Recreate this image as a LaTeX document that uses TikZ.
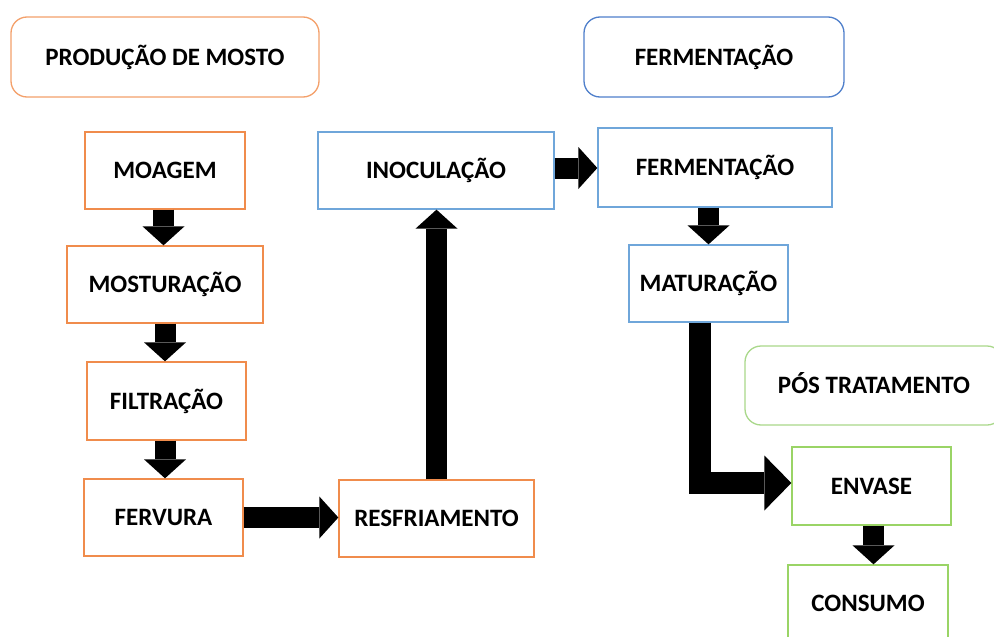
\documentclass[tikz,border=0pt]{standalone}
\usepackage{fontspec}
\setmainfont{Carlito}
\usetikzlibrary{arrows.meta,calc}
\definecolor{orbox}{HTML}{F08C4C}
\definecolor{orhead}{HTML}{F4A06A}
\definecolor{blbox}{HTML}{6FA6DA}
\definecolor{blhead}{HTML}{4F7FCB}
\definecolor{grbox}{HTML}{9AD466}
\definecolor{grhead}{HTML}{A9D88A}
\begin{document}
\begin{tikzpicture}[x=1pt,y=-1pt,
  box/.style={draw, line width=1.3pt, inner sep=0pt, text height=16pt, text depth=0pt,
    font=\fontsize{25}{29}\selectfont\bfseries, text=black},
  head/.style={box, rounded corners=16pt},
  flow/.style={line width=21pt, -{Triangle[width=42pt,length=19pt,line width=0pt]}},
  flowbig/.style={line width=22pt, -{Triangle[width=55pt,length=27pt,line width=0pt]}}]
\clip (0,0) rectangle (994,637);
\fill[white] (0,0) rectangle (994,637);

% headers
\node[head, draw=orhead, minimum width=308pt, minimum height=80pt] (hprod) at (165,57) {PRODUÇÃO DE MOSTO};
\node[head, draw=blhead, minimum width=260pt, minimum height=80pt] (hferm) at (714,57) {FERMENTAÇÃO};
\node[head, draw=grhead, minimum width=258pt, minimum height=79pt] (hpos) at (874,385.5) {PÓS TRATAMENTO};

% orange boxes
\node[box, draw=orbox, minimum width=160pt, minimum height=77pt] (moagem) at (165,170.5) {MOAGEM};
\node[box, draw=orbox, minimum width=196pt, minimum height=77pt] (mostur) at (165,284.5) {MOSTURAÇÃO};
\node[box, draw=orbox, minimum width=159pt, minimum height=78pt] (filtr) at (166.5,401) {FILTRAÇÃO};
\node[box, draw=orbox, minimum width=159pt, minimum height=77pt] (fervura) at (163.5,517.5) {FERVURA};
\node[box, draw=orbox, minimum width=195pt, minimum height=77pt] (resfr) at (436.5,518.5) {RESFRIAMENTO};

% blue boxes
\node[box, draw=blbox, minimum width=236pt, minimum height=77pt] (inoc) at (436,170.5) {INOCULAÇÃO};
\node[box, draw=blbox, minimum width=234pt, minimum height=79pt] (ferm) at (715,167.5) {FERMENTAÇÃO};
\node[box, draw=blbox, minimum width=159pt, minimum height=77pt] (mat) at (708.5,283.5) {MATURAÇÃO};

% green boxes
\node[box, draw=grbox, minimum width=159pt, minimum height=78pt] (envase) at (871.5,486) {ENVASE};
\node[box, draw=grbox, minimum width=160pt, minimum height=77pt] (consumo) at (868,603.5) {CONSUMO};

% arrows
\draw[flow] ($(moagem.south)+(-1.5,0)$) -- ($(moagem.south |- mostur.north)+(-1.5,0)$);
\draw[flow] (mostur.south) -- (mostur.south |- filtr.north);
\draw[flow] ($(filtr.south)+(-1.5,0)$) -- ($(filtr.south |- fervura.north)+(-1.5,0)$);
\draw[flow] (fervura.east) -- (fervura.east -| resfr.west);
\draw[flow] (resfr.north) -- (resfr.north |- inoc.south);
\draw[flow] ($(inoc.east)+(0,-2.5)$) -- ($(inoc.east -| ferm.west)+(0,-2.5)$);
\draw[flow] (mat.north |- ferm.south) -- (mat.north);
\draw[flowbig] ($(mat.south)+(-8.5,0)$) |- ($(envase.west)+(0,-3)$);
\draw[flow] ($(envase.south)+(2,0)$) -- ($(envase.south |- consumo.north)+(2,0)$);
\end{tikzpicture}
\end{document}
